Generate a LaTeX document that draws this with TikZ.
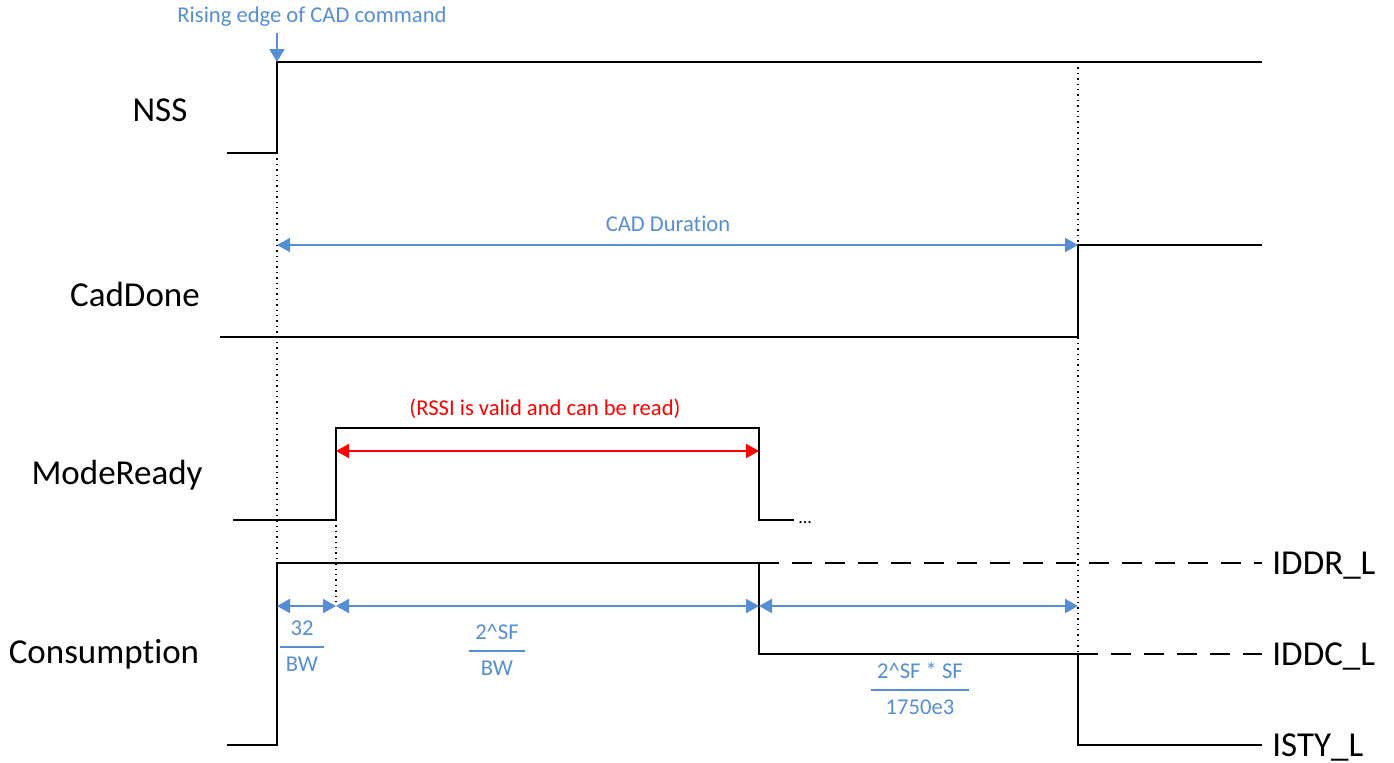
\documentclass[tikz,border=0pt]{standalone}
\usepackage{fontspec}
\setmainfont{Carlito}[Ligatures=NoCommon]
\usepackage{xcolor}
\usetikzlibrary{arrows.meta}
\definecolor{dimblue}{RGB}{85,142,213}
\definecolor{rssired}{RGB}{255,0,0}
\newcommand{\ratiotext}[2]{\setlength{\arrayrulewidth}{1pt}\begin{tabular}{@{\hspace{3pt}}c@{\hspace{3pt}}}#1\\[1pt]\hline\rule{0pt}{12pt}#2\end{tabular}}

\tikzset{
    sig/.style={line width=1pt, black},
    sigdash/.style={sig, dash pattern=on 10pt off 6.5pt},
    guide/.style={line width=0.7pt, black, dash pattern=on 0.7pt off 2pt},
    span/.style={line width=1pt, dimblue, {Triangle[length=6.5pt,width=7pt]}-{Triangle[length=6.5pt,width=7pt]}},
    rssispan/.style={span, rssired},
    cue/.style={line width=1pt, dimblue, -{Triangle[length=6.5pt,width=7.5pt]}},
    signame/.style={anchor=base, font=\fontsize{17.5}{21}\selectfont},
    levelname/.style={anchor=base west, inner sep=5pt, font=\fontsize{17.5}{21}\selectfont},
    note/.style={anchor=base, text=dimblue, font=\fontsize{11.3}{14}\selectfont},
    ratio/.style={text=dimblue, inner sep=0pt, font=\fontsize{11.3}{14}\selectfont}
}

\begin{document}
\begin{tikzpicture}[x=0.5pt, y=-0.5pt]
            \useasboundingbox (0,0) rectangle (1394,762);
            \node[signame] (nss) at (160,121) {NSS};
            \node[signame] (caddone) at (135,306) {CadDone};
            \node[signame] (modeready) at (117,484) {ModeReady};
            \node[signame] (consumption) at (104,663) {Consumption};
            \node[levelname] (iddr) at (1262,574) {IDDR\_L};
            \node[levelname] (iddc) at (1262,665) {IDDC\_L};
            \node[levelname] (isty) at (1262,756) {ISTY\_L};
            \node[note] (rising) at (312,22) {Rising edge of CAD command};
            \node[note] (cadlabel) at (668,231) {CAD Duration};
            \node[note, text=rssired] (rssilabel) at (545,415) {(RSSI is valid and can be read)};
            \node[ratio] (f32) at (302,648) {\ratiotext{32}{BW}};
            \node[ratio] (fsf) at (497,652) {\ratiotext{2\textasciicircum SF}{BW}};
            \node[ratio] (fsfsf) at (920,691) {\ratiotext{2\textasciicircum SF * SF}{1750e3}};
            \node[anchor=base west, inner sep=0pt, font=\fontsize{9}{10}\selectfont] (more) at (798,523) {...};

            \coordinate (nssup) at (277,62);
            \coordinate (cadA) at (277,245);
            \coordinate (cadB) at (1078,245);
            \coordinate (rssiA) at (336,451);
            \coordinate (rssiB) at (759,451);
            \coordinate (readyoff) at (759,520);
            \coordinate (highoff) at (759,563);
            \coordinate (cadoff) at (1078,654);
            \coordinate (stby) at (1078,745);
            \coordinate (d0) at (277,606);
            \coordinate (d1) at (336,606);
            \coordinate (d2) at (759,606);
            \coordinate (d3) at (1078,606);

            \draw[guide] (277,153) -- (277,563);
            \draw[guide] (336,520) -- (d1);
            \draw[guide] (1078,62) -- (cadoff);

            \draw[sig] (227,153) -- (277,153) -- (nssup) -- (1262,62);
            \draw[sig] (220,337) -- (1078,337) -- (cadB) -- (1262,245);
            \draw[sig] (233,520) -- (336,520) -- (336,428) -- (759,428) -- (readyoff) -- ([xshift=-2pt]readyoff -| more.west);
            \draw[sig] (227,745) -- (277,745) -- (277,563) -- (highoff) -- (759,654) -- (cadoff) -- (stby) -- (stby -| isty.west);
            \draw[sigdash] (highoff) -- (highoff -| iddr.west);
            \draw[sigdash] (cadoff) -- (cadoff -| iddc.west);

            \draw[cue] (nssup |- rising.south) -- (nssup);
            \draw[span] (cadA) -- (cadB);
            \draw[rssispan] (rssiA) -- (rssiB);
            \draw[span] (d0) -- (d1);
            \draw[span] (d1) -- (d2);
            \draw[span] (d2) -- (d3);
        \end{tikzpicture}
\end{document}
